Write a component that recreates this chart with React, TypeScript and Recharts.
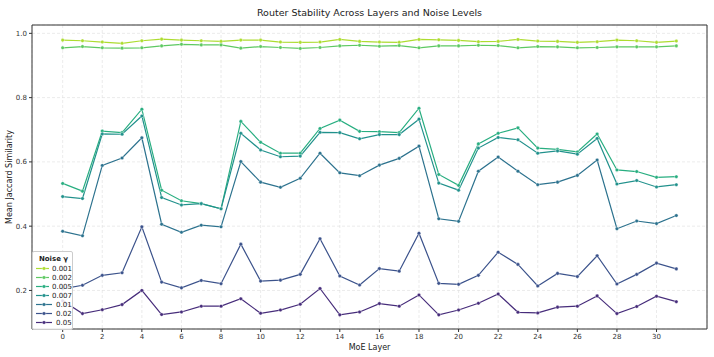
import React from 'react'
import { LineChart, Line, XAxis, YAxis, CartesianGrid, ReferenceArea } from 'recharts';

const layers = [0, 1, 2, 3, 4, 5, 6, 7, 8, 9, 10, 11, 12, 13, 14, 15, 16, 17, 18, 19, 20, 21, 22, 23, 24, 25, 26, 27, 28, 29, 30, 31];

const noise001 = [0.979, 0.977, 0.973, 0.969, 0.977, 0.982, 0.979, 0.977, 0.975, 0.979, 0.979, 0.973, 0.972, 0.973, 0.981, 0.975, 0.973, 0.972, 0.981, 0.980, 0.978, 0.974, 0.975, 0.981, 0.976, 0.975, 0.972, 0.974, 0.979, 0.977, 0.972, 0.976];
const noise002 = [0.955, 0.959, 0.955, 0.954, 0.955, 0.961, 0.966, 0.964, 0.964, 0.954, 0.959, 0.956, 0.953, 0.956, 0.961, 0.963, 0.960, 0.962, 0.955, 0.961, 0.961, 0.963, 0.962, 0.955, 0.959, 0.958, 0.955, 0.956, 0.958, 0.958, 0.958, 0.961];
const noise005 = [0.533, 0.509, 0.696, 0.691, 0.764, 0.512, 0.479, 0.470, 0.454, 0.726, 0.661, 0.627, 0.627, 0.704, 0.730, 0.695, 0.694, 0.691, 0.767, 0.561, 0.527, 0.656, 0.689, 0.706, 0.643, 0.639, 0.631, 0.687, 0.575, 0.570, 0.552, 0.554];
const noise007 = [0.492, 0.486, 0.687, 0.686, 0.743, 0.489, 0.466, 0.470, 0.454, 0.689, 0.637, 0.616, 0.618, 0.692, 0.691, 0.672, 0.685, 0.685, 0.733, 0.534, 0.512, 0.643, 0.676, 0.669, 0.627, 0.634, 0.624, 0.673, 0.531, 0.542, 0.522, 0.529];
const noise01 = [0.384, 0.370, 0.589, 0.612, 0.675, 0.406, 0.381, 0.403, 0.398, 0.601, 0.537, 0.521, 0.549, 0.627, 0.566, 0.557, 0.590, 0.611, 0.649, 0.423, 0.415, 0.571, 0.615, 0.571, 0.529, 0.537, 0.558, 0.606, 0.392, 0.416, 0.408, 0.433];
const noise02 = [0.205, 0.216, 0.247, 0.255, 0.398, 0.226, 0.208, 0.231, 0.221, 0.344, 0.229, 0.232, 0.250, 0.361, 0.245, 0.217, 0.268, 0.260, 0.378, 0.222, 0.219, 0.247, 0.319, 0.281, 0.214, 0.253, 0.243, 0.308, 0.220, 0.250, 0.285, 0.267];
const noise05 = [0.168, 0.128, 0.140, 0.156, 0.200, 0.125, 0.133, 0.151, 0.151, 0.174, 0.129, 0.139, 0.157, 0.206, 0.124, 0.133, 0.159, 0.151, 0.186, 0.124, 0.139, 0.160, 0.189, 0.132, 0.130, 0.148, 0.151, 0.183, 0.128, 0.150, 0.182, 0.165];

const xTicks = [0, 2, 4, 6, 8, 10, 12, 14, 16, 18, 20, 22, 24, 26, 28, 30];
const yTicks = [0.2, 0.4, 0.6, 0.8, 1.0];

const series = [
  { key: 'n001', name: '0.001', values: noise001, color: '#addc30' },
  { key: 'n002', name: '0.002', values: noise002, color: '#5ec962' },
  { key: 'n005', name: '0.005', values: noise005, color: '#28ae80' },
  { key: 'n007', name: '0.007', values: noise007, color: '#21918c' },
  { key: 'n01', name: '0.01', values: noise01, color: '#2c728e' },
  { key: 'n02', name: '0.02', values: noise02, color: '#3b528b' },
  { key: 'n05', name: '0.05', values: noise05, color: '#472d7b' },
];

const data = layers.map((layer, i) => {
  const row: Record<string, number> = { layer };
  series.forEach(s => { row[s.key] = s.values[i]; });
  return row;
});

const font = 'DejaVu Sans, sans-serif';

function NoiseLegend() {
  return (
    <div style={{
      position: 'absolute', left: 32, top: 251, width: 41, padding: '2px 0 2px 2px',
      border: '1px solid #ccc', borderRadius: 2, background: 'rgba(255,255,255,0.85)',
      fontFamily: font, fontSize: 7, color: '#222', boxSizing: 'border-box'
    }}>
      <div style={{ fontWeight: 'bold', textAlign: 'center', height: 10, lineHeight: '10px' }}>Noise γ</div>
      {series.map(s => (
        <div key={s.key} style={{ display: 'flex', alignItems: 'center', height: 9 }}>
          <svg width={18} height={9} style={{ marginRight: 3 }}>
            <line x1={1} y1={4.5} x2={17} y2={4.5} stroke={s.color} strokeWidth={1.2} />
            <circle cx={9} cy={4.5} r={1.8} fill={s.color} stroke='white' strokeWidth={0.4} />
          </svg>
          <span>{s.name}</span>
        </div>
      ))}
    </div>
  );
}

export default function App() {
  return (
    <div style={{ position: 'absolute', left: 0, top: 0, width: 714, height: 357, background: 'white' }}>
      <div style={{
        position: 'absolute', left: 32, width: 675, top: 7, textAlign: 'center',
        fontFamily: font, fontSize: 9.5, color: '#222'
      }}>
        Router Stability Across Layers and Noise Levels
      </div>
      <LineChart width={714} height={357} data={data}
        margin={{ top: 25, right: 7, bottom: 0, left: 0 }}
        style={{ fontFamily: font }}
      >
        <CartesianGrid stroke='#ddd' strokeDasharray='3 2' strokeWidth={0.6} />
        <XAxis dataKey='layer' type='number' domain={[-1.55, 32.55]} ticks={xTicks}
          allowDataOverflow height={28} axisLine={false} tickSize={3} tickMargin={2}
          tick={{ fontSize: 7, fill: '#333' }} tickLine={{ stroke: '#333' }}
          label={{ value: 'MoE Layer', position: 'insideBottom', offset: 7, fontSize: 8, fill: '#222' }}
        />
        <YAxis type='number' domain={[0.08, 1.026]} ticks={yTicks} allowDataOverflow width={32}
          axisLine={false} tickSize={3} tickMargin={2} tickFormatter={(v: number) => v.toFixed(1)}
          tick={{ fontSize: 7, fill: '#333' }} tickLine={{ stroke: '#333' }}
          label={{ value: 'Mean Jaccard Similarity', angle: -90, position: 'insideLeft', offset: 9, fontSize: 8, fill: '#222', style: { textAnchor: 'middle' } }}
        />
        {series.map(s => (
          <Line key={s.key} dataKey={s.key} name={s.name} type='linear' stroke={s.color}
            strokeWidth={1.2} isAnimationActive={false} activeDot={false}
            dot={{ r: 1.8, fill: s.color, stroke: 'white', strokeWidth: 0.4 }}
          />
        ))}
        <ReferenceArea x1={-1.55} x2={32.55} y1={0.08} y2={1.026} fill='none' stroke='#333' strokeWidth={1} />
      </LineChart>
      <NoiseLegend />
    </div>
  );
}
